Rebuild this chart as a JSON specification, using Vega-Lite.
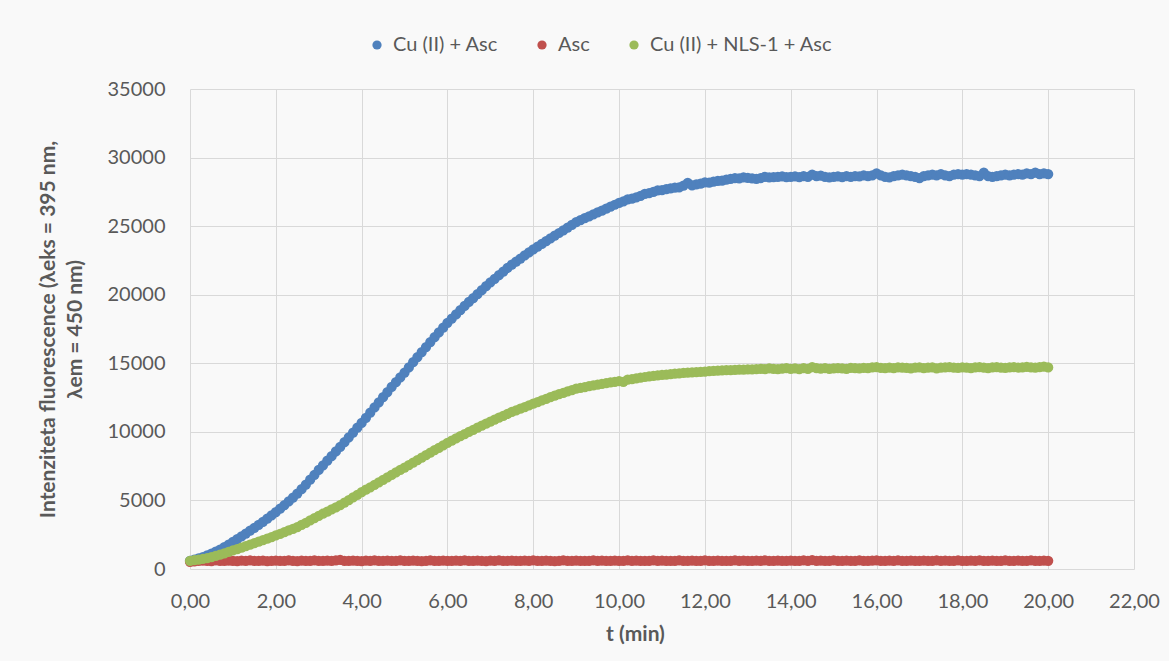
{
  "$schema": "https://vega.github.io/schema/vega-lite/v6.json",
  "autosize": {"type": "none"},
  "width": 944,
  "height": 480,
  "padding": {"left": 190, "top": 89, "right": 35, "bottom": 92},
  "background": "#f9f9f9",
  "config": {
    "font": "Lato",
    "locale": {"number": {"decimal": ",", "thousands": ".", "grouping": [3], "currency": ["", " €"]}},
    "view": {"stroke": null},
    "axis": {"gridColor": "#d9d9d9", "gridWidth": 1, "domain": false, "ticks": false, "labelColor": "#595959", "labelFontSize": 20, "titleColor": "#595959", "titleFontSize": 21, "titleFontWeight": "bold"}
  },
  "data": {"values": [
{"t":0.0,"k1":600,"k2":520,"k3":600},{"t":0.1,"k1":680,"k2":560,"k3":640},{"t":0.2,"k1":770,"k2":590,"k3":690},{"t":0.3,"k1":870,"k2":610,"k3":740},{"t":0.4,"k1":990,"k2":600,"k3":800},{"t":0.5,"k1":1120,"k2":580,"k3":860},{"t":0.6,"k1":1260,"k2":620,"k3":950},{"t":0.7,"k1":1420,"k2":600,"k3":1040},{"t":0.8,"k1":1590,"k2":590,"k3":1140},{"t":0.9,"k1":1780,"k2":610,"k3":1240},
{"t":1.0,"k1":1980,"k2":600,"k3":1350},{"t":1.1,"k1":2180,"k2":580,"k3":1450},{"t":1.2,"k1":2380,"k2":610,"k3":1560},{"t":1.3,"k1":2580,"k2":600,"k3":1670},{"t":1.4,"k1":2790,"k2":620,"k3":1780},{"t":1.5,"k1":3000,"k2":590,"k3":1890},{"t":1.6,"k1":3220,"k2":600,"k3":2000},{"t":1.7,"k1":3440,"k2":610,"k3":2110},{"t":1.8,"k1":3670,"k2":580,"k3":2220},{"t":1.9,"k1":3910,"k2":600,"k3":2330},
{"t":2.0,"k1":4150,"k2":610,"k3":2450},{"t":2.1,"k1":4400,"k2":590,"k3":2570},{"t":2.2,"k1":4660,"k2":600,"k3":2690},{"t":2.3,"k1":4930,"k2":620,"k3":2810},{"t":2.4,"k1":5210,"k2":600,"k3":2930},{"t":2.5,"k1":5500,"k2":580,"k3":3060},{"t":2.6,"k1":5820,"k2":610,"k3":3210},{"t":2.7,"k1":6160,"k2":600,"k3":3370},{"t":2.8,"k1":6510,"k2":590,"k3":3540},{"t":2.9,"k1":6870,"k2":620,"k3":3710},
{"t":3.0,"k1":7220,"k2":600,"k3":3880},{"t":3.1,"k1":7560,"k2":590,"k3":4030},{"t":3.2,"k1":7900,"k2":610,"k3":4180},{"t":3.3,"k1":8230,"k2":600,"k3":4340},{"t":3.4,"k1":8570,"k2":630,"k3":4490},{"t":3.5,"k1":8900,"k2":660,"k3":4650},{"t":3.6,"k1":9250,"k2":600,"k3":4840},{"t":3.7,"k1":9600,"k2":590,"k3":5030},{"t":3.8,"k1":9950,"k2":610,"k3":5220},{"t":3.9,"k1":10300,"k2":600,"k3":5410},
{"t":4.0,"k1":10650,"k2":580,"k3":5600},{"t":4.1,"k1":11020,"k2":610,"k3":5780},{"t":4.2,"k1":11400,"k2":600,"k3":5960},{"t":4.3,"k1":11780,"k2":620,"k3":6140},{"t":4.4,"k1":12150,"k2":590,"k3":6320},{"t":4.5,"k1":12530,"k2":600,"k3":6500},{"t":4.6,"k1":12900,"k2":610,"k3":6680},{"t":4.7,"k1":13280,"k2":590,"k3":6860},{"t":4.8,"k1":13620,"k2":600,"k3":7040},{"t":4.9,"k1":13970,"k2":620,"k3":7220},
{"t":5.0,"k1":14320,"k2":600,"k3":7400},{"t":5.1,"k1":14700,"k2":590,"k3":7580},{"t":5.2,"k1":15080,"k2":610,"k3":7760},{"t":5.3,"k1":15450,"k2":600,"k3":7940},{"t":5.4,"k1":15820,"k2":580,"k3":8120},{"t":5.5,"k1":16180,"k2":600,"k3":8300},{"t":5.6,"k1":16550,"k2":620,"k3":8480},{"t":5.7,"k1":16900,"k2":600,"k3":8660},{"t":5.8,"k1":17250,"k2":590,"k3":8840},{"t":5.9,"k1":17600,"k2":610,"k3":9020},
{"t":6.0,"k1":17950,"k2":600,"k3":9200},{"t":6.1,"k1":18260,"k2":590,"k3":9360},{"t":6.2,"k1":18560,"k2":610,"k3":9520},{"t":6.3,"k1":18870,"k2":600,"k3":9680},{"t":6.4,"k1":19180,"k2":620,"k3":9840},{"t":6.5,"k1":19480,"k2":600,"k3":10000},{"t":6.6,"k1":19760,"k2":590,"k3":10150},{"t":6.7,"k1":20050,"k2":610,"k3":10300},{"t":6.8,"k1":20330,"k2":600,"k3":10450},{"t":6.9,"k1":20620,"k2":580,"k3":10600},
{"t":7.0,"k1":20900,"k2":610,"k3":10750},{"t":7.1,"k1":21160,"k2":600,"k3":10890},{"t":7.2,"k1":21420,"k2":620,"k3":11030},{"t":7.3,"k1":21680,"k2":590,"k3":11170},{"t":7.4,"k1":21950,"k2":600,"k3":11310},{"t":7.5,"k1":22200,"k2":610,"k3":11450},{"t":7.6,"k1":22420,"k2":600,"k3":11570},{"t":7.7,"k1":22640,"k2":590,"k3":11690},{"t":7.8,"k1":22860,"k2":610,"k3":11810},{"t":7.9,"k1":23080,"k2":600,"k3":11930},
{"t":8.0,"k1":23300,"k2":620,"k3":12050},{"t":8.1,"k1":23500,"k2":600,"k3":12170},{"t":8.2,"k1":23700,"k2":590,"k3":12290},{"t":8.3,"k1":23900,"k2":610,"k3":12410},{"t":8.4,"k1":24100,"k2":600,"k3":12530},{"t":8.5,"k1":24300,"k2":580,"k3":12650},{"t":8.6,"k1":24500,"k2":600,"k3":12750},{"t":8.7,"k1":24700,"k2":620,"k3":12850},{"t":8.8,"k1":24900,"k2":600,"k3":12950},{"t":8.9,"k1":25100,"k2":590,"k3":13050},
{"t":9.0,"k1":25300,"k2":610,"k3":13150},{"t":9.1,"k1":25440,"k2":600,"k3":13210},{"t":9.2,"k1":25580,"k2":590,"k3":13270},{"t":9.3,"k1":25720,"k2":600,"k3":13330},{"t":9.4,"k1":25860,"k2":620,"k3":13390},{"t":9.5,"k1":26000,"k2":600,"k3":13450},{"t":9.6,"k1":26140,"k2":610,"k3":13500},{"t":9.7,"k1":26280,"k2":590,"k3":13550},{"t":9.8,"k1":26420,"k2":600,"k3":13600},{"t":9.9,"k1":26560,"k2":610,"k3":13650},
{"t":10.0,"k1":26700,"k2":600,"k3":13700},{"t":10.1,"k1":26800,"k2":590,"k3":13650},{"t":10.2,"k1":26950,"k2":620,"k3":13800},{"t":10.3,"k1":27000,"k2":600,"k3":13850},{"t":10.4,"k1":27100,"k2":610,"k3":13900},{"t":10.5,"k1":27200,"k2":600,"k3":13950},{"t":10.6,"k1":27350,"k2":590,"k3":14000},{"t":10.7,"k1":27400,"k2":600,"k3":14040},{"t":10.8,"k1":27500,"k2":620,"k3":14080},{"t":10.9,"k1":27600,"k2":600,"k3":14120},
{"t":11.0,"k1":27620,"k2":610,"k3":14150},{"t":11.1,"k1":27700,"k2":590,"k3":14180},{"t":11.2,"k1":27750,"k2":600,"k3":14210},{"t":11.3,"k1":27800,"k2":600,"k3":14240},{"t":11.4,"k1":27820,"k2":620,"k3":14270},{"t":11.5,"k1":27950,"k2":600,"k3":14300},{"t":11.6,"k1":28150,"k2":590,"k3":14320},{"t":11.7,"k1":27980,"k2":610,"k3":14340},{"t":11.8,"k1":28050,"k2":600,"k3":14360},{"t":11.9,"k1":28100,"k2":600,"k3":14380},
{"t":12.0,"k1":28200,"k2":620,"k3":14400},{"t":12.1,"k1":28180,"k2":600,"k3":14420},{"t":12.2,"k1":28250,"k2":590,"k3":14440},{"t":12.3,"k1":28300,"k2":610,"k3":14460},{"t":12.4,"k1":28320,"k2":600,"k3":14480},{"t":12.5,"k1":28400,"k2":590,"k3":14500},{"t":12.6,"k1":28450,"k2":600,"k3":14510},{"t":12.7,"k1":28500,"k2":620,"k3":14520},{"t":12.8,"k1":28480,"k2":600,"k3":14530},{"t":12.9,"k1":28550,"k2":610,"k3":14540},
{"t":13.0,"k1":28520,"k2":600,"k3":14550},{"t":13.1,"k1":28480,"k2":590,"k3":14560},{"t":13.2,"k1":28450,"k2":610,"k3":14580},{"t":13.3,"k1":28500,"k2":600,"k3":14600},{"t":13.4,"k1":28600,"k2":620,"k3":14570},{"t":13.5,"k1":28550,"k2":600,"k3":14620},{"t":13.6,"k1":28570,"k2":590,"k3":14600},{"t":13.7,"k1":28600,"k2":610,"k3":14580},{"t":13.8,"k1":28620,"k2":600,"k3":14610},{"t":13.9,"k1":28580,"k2":600,"k3":14640},
{"t":14.0,"k1":28600,"k2":610,"k3":14600},{"t":14.1,"k1":28620,"k2":600,"k3":14620},{"t":14.2,"k1":28580,"k2":590,"k3":14580},{"t":14.3,"k1":28650,"k2":620,"k3":14650},{"t":14.4,"k1":28600,"k2":600,"k3":14600},{"t":14.5,"k1":28750,"k2":650,"k3":14720},{"t":14.6,"k1":28650,"k2":600,"k3":14640},{"t":14.7,"k1":28680,"k2":610,"k3":14610},{"t":14.8,"k1":28600,"k2":590,"k3":14650},{"t":14.9,"k1":28550,"k2":600,"k3":14600},
{"t":15.0,"k1":28600,"k2":620,"k3":14630},{"t":15.1,"k1":28620,"k2":600,"k3":14650},{"t":15.2,"k1":28580,"k2":590,"k3":14620},{"t":15.3,"k1":28650,"k2":610,"k3":14600},{"t":15.4,"k1":28600,"k2":600,"k3":14660},{"t":15.5,"k1":28650,"k2":600,"k3":14640},{"t":15.6,"k1":28620,"k2":620,"k3":14620},{"t":15.7,"k1":28700,"k2":590,"k3":14670},{"t":15.8,"k1":28650,"k2":600,"k3":14650},{"t":15.9,"k1":28700,"k2":610,"k3":14700},
{"t":16.0,"k1":28850,"k2":630,"k3":14720},{"t":16.1,"k1":28700,"k2":600,"k3":14660},{"t":16.2,"k1":28600,"k2":590,"k3":14640},{"t":16.3,"k1":28550,"k2":610,"k3":14680},{"t":16.4,"k1":28650,"k2":600,"k3":14650},{"t":16.5,"k1":28700,"k2":620,"k3":14700},{"t":16.6,"k1":28750,"k2":600,"k3":14680},{"t":16.7,"k1":28700,"k2":590,"k3":14660},{"t":16.8,"k1":28650,"k2":610,"k3":14620},{"t":16.9,"k1":28600,"k2":600,"k3":14680},
{"t":17.0,"k1":28500,"k2":600,"k3":14700},{"t":17.1,"k1":28650,"k2":610,"k3":14650},{"t":17.2,"k1":28700,"k2":590,"k3":14680},{"t":17.3,"k1":28750,"k2":600,"k3":14700},{"t":17.4,"k1":28700,"k2":620,"k3":14620},{"t":17.5,"k1":28800,"k2":600,"k3":14680},{"t":17.6,"k1":28700,"k2":610,"k3":14700},{"t":17.7,"k1":28650,"k2":590,"k3":14720},{"t":17.8,"k1":28750,"k2":600,"k3":14680},{"t":17.9,"k1":28800,"k2":620,"k3":14660},
{"t":18.0,"k1":28750,"k2":600,"k3":14700},{"t":18.1,"k1":28800,"k2":590,"k3":14680},{"t":18.2,"k1":28750,"k2":610,"k3":14650},{"t":18.3,"k1":28700,"k2":600,"k3":14700},{"t":18.4,"k1":28650,"k2":620,"k3":14720},{"t":18.5,"k1":28900,"k2":600,"k3":14680},{"t":18.6,"k1":28650,"k2":590,"k3":14650},{"t":18.7,"k1":28600,"k2":610,"k3":14700},{"t":18.8,"k1":28650,"k2":600,"k3":14720},{"t":18.9,"k1":28700,"k2":600,"k3":14680},
{"t":19.0,"k1":28750,"k2":620,"k3":14660},{"t":19.1,"k1":28700,"k2":600,"k3":14700},{"t":19.2,"k1":28750,"k2":590,"k3":14720},{"t":19.3,"k1":28800,"k2":610,"k3":14680},{"t":19.4,"k1":28750,"k2":600,"k3":14700},{"t":19.5,"k1":28850,"k2":600,"k3":14740},{"t":19.6,"k1":28800,"k2":620,"k3":14700},{"t":19.7,"k1":28900,"k2":590,"k3":14680},{"t":19.8,"k1":28800,"k2":600,"k3":14720},{"t":19.9,"k1":28850,"k2":610,"k3":14750},
{"t":20.0,"k1":28800,"k2":600,"k3":14700}
  ]},
  "transform": [{"fold": ["k1", "k2", "k3"], "as": ["s", "v"]}],
  "mark": {"type": "point", "shape": "circle", "filled": true, "opacity": 1, "size": 105},
  "encoding": {
    "x": {"field": "t", "type": "quantitative", "scale": {"domain": [0, 22], "nice": false},
      "axis": {"values": [0, 2, 4, 6, 8, 10, 12, 14, 16, 18, 20, 22], "format": ".2f", "labelPadding": 22, "title": "t (min)", "titlePadding": 12, "titleX": 445, "titleAnchor": "middle", "labelFlush": false}},
    "y": {"field": "v", "type": "quantitative", "scale": {"domain": [0, 35000], "nice": false},
      "axis": {"values": [0, 5000, 10000, 15000, 20000, 25000, 30000, 35000], "format": "d", "labelPadding": 25, "title": ["Intenziteta fluorescence (λeks = 395 nm,", "λem = 450 nm)"], "titlePadding": 22, "titleLineHeight": 27, "labelFlush": false}},
    "color": {"field": "s", "type": "nominal",
      "scale": {"domain": ["k1", "k2", "k3"], "range": ["#4f81bd", "#c0504d", "#9bbb59"]},
      "legend": {"orient": "none", "direction": "horizontal", "legendX": 177, "legendY": -54, "title": null,
        "labelExpr": "datum.value == 'k1' ? 'Cu (II) + Asc' : datum.value == 'k2' ? 'Asc' : 'Cu (II) + NLS-1 + Asc'",
        "symbolType": "circle", "symbolSize": 85, "symbolStrokeWidth": 0, "labelFontSize": 20, "labelLimit": 400, "labelColor": "#595959", "columnPadding": 34, "labelOffset": 6}},
    "order": {"field": "s", "type": "nominal", "sort": "ascending"}
  }
}
